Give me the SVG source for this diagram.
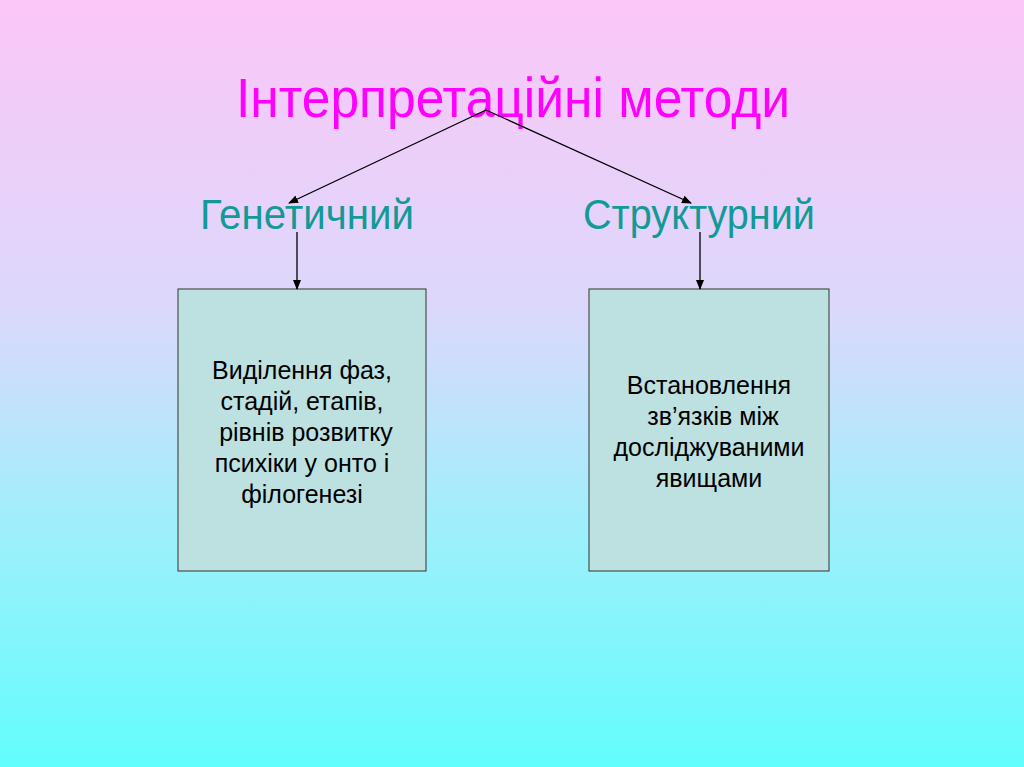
<svg xmlns="http://www.w3.org/2000/svg" width="1024" height="767" viewBox="0 0 1024 767">
<defs>
<linearGradient id="bg" x1="0" y1="0" x2="0" y2="1">
<stop offset="0" stop-color="#fbc6f8"/>
<stop offset="0.4" stop-color="#dcd8fb"/>
<stop offset="0.7" stop-color="#9cf0fb"/>
<stop offset="1" stop-color="#62fdfd"/>
</linearGradient>
<marker id="ah" markerWidth="10" markerHeight="8" refX="9" refY="4" orient="auto" markerUnits="userSpaceOnUse">
<path d="M0,0 L10,4 L0,8 z" fill="#000"/>
</marker>
<style>
text{font-family:"Liberation Sans",Arial,sans-serif;text-anchor:middle}
.t{fill:#ff00ff;font-size:56px}
.h{fill:#129a96;font-size:42px}
.b{fill:#000;font-size:25px}
.box{fill:#bde0e0;stroke:#333;stroke-width:1}
.c{stroke:#000;stroke-width:1.3;fill:none;marker-end:url(#ah)}
</style>
</defs>
<rect width="1024" height="767" fill="url(#bg)"/>
<g id="title"><text class="t" x="513" y="117" textLength="554" lengthAdjust="spacingAndGlyphs">Інтерпретаційні методи</text></g>
<g id="genetic"><text class="h" x="307" y="229" textLength="214" lengthAdjust="spacingAndGlyphs">Генетичний</text></g>
<g id="structural"><text class="h" x="699" y="229" textLength="232" lengthAdjust="spacingAndGlyphs">Структурний</text></g>
<g id="box-left"><rect class="box" x="178" y="289" width="248" height="282"/>
<text class="b"><tspan x="302" y="379">Виділення фаз,</tspan><tspan x="302" y="410">стадій, етапів,</tspan><tspan x="306" y="441">рівнів розвитку</tspan><tspan x="302" y="472">психіки у онто і</tspan><tspan x="302" y="503">філогенезі</tspan></text></g>
<g id="box-right"><rect class="box" x="589" y="289" width="240" height="282"/>
<text class="b"><tspan x="709" y="394">Встановлення</tspan><tspan x="713" y="425">зв’язків між</tspan><tspan x="709" y="456">досліджуваними</tspan><tspan x="709" y="487">явищами</tspan></text></g>
<g id="connectors">
<line class="c" x1="486" y1="110" x2="289" y2="203"/>
<line class="c" x1="486" y1="110" x2="691" y2="203"/>
<line class="c" x1="297" y1="232" x2="297" y2="289"/>
<line class="c" x1="700" y1="232" x2="700" y2="289"/>
</g>
</svg>
